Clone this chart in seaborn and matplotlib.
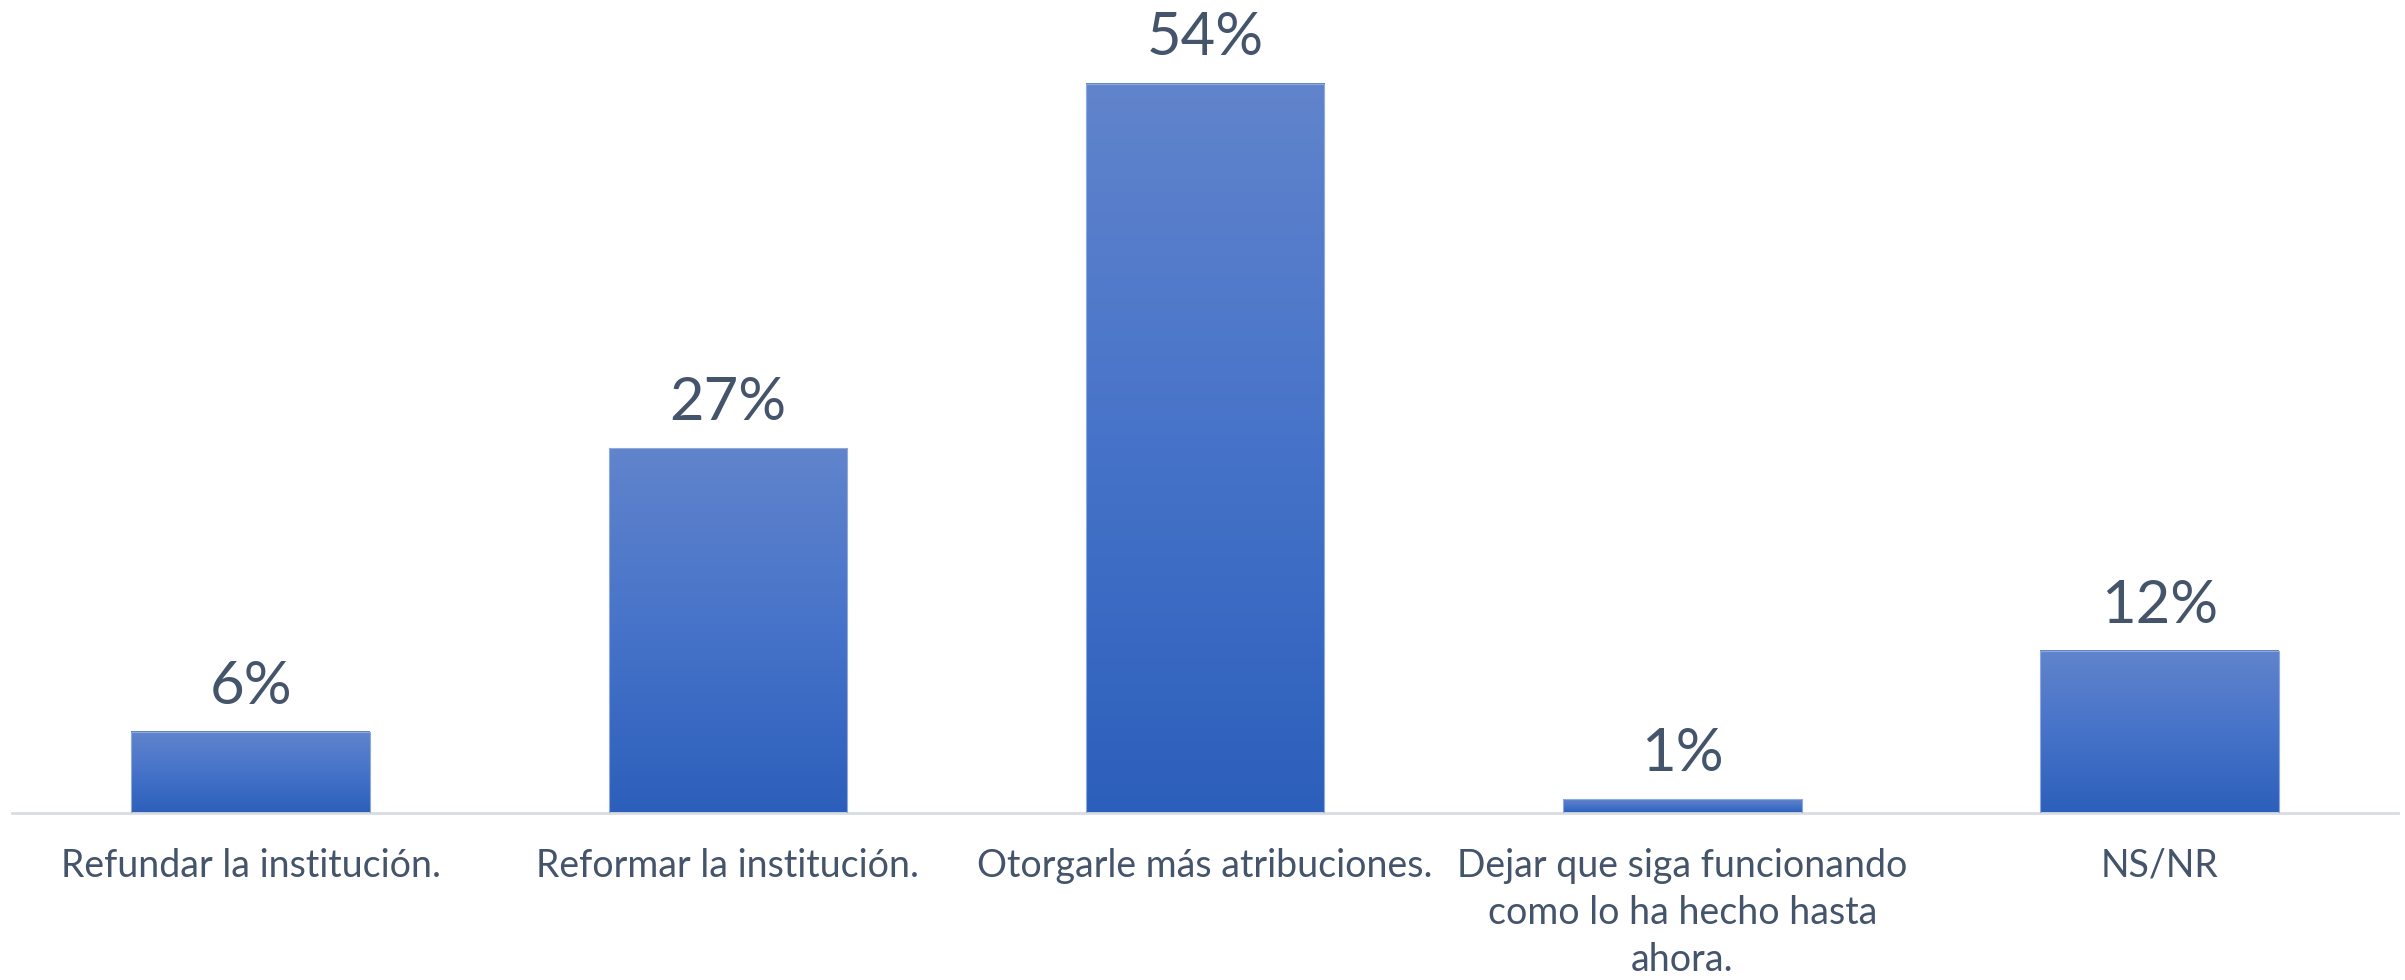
import numpy as np
import pandas as pd
import matplotlib
matplotlib.use("Agg")
import matplotlib.pyplot as plt
import seaborn as sns
from matplotlib.colors import LinearSegmentedColormap

# chart data
categories = [
    "Refundar la institución.",
    "Reformar la institución.",
    "Otorgarle más atribuciones.",
    "Dejar que siga funcionando\ncomo lo ha hecho hasta\nahora.",
    "NS/NR",
]
values = [6, 27, 54, 1, 12]
value_labels = ["6%", "27%", "54%", "1%", "12%"]

text_color = "#44546A"
grad = LinearSegmentedColormap.from_list("bar_grad", ["#2C5FBB", "#4673C9", "#6184CC"])

sns.set_theme(style="white")
plt.rcParams["font.family"] = ["Lato", "DejaVu Sans"]

df = pd.DataFrame({"cat": categories, "val": values})

fig = plt.figure(figsize=(24.05, 9.8), dpi=100)
ax = fig.add_axes([12 / 2405, 167 / 980, 2386 / 2405, 813 / 980])
sns.barplot(data=df, x="cat", y="val", color="#4472C4", width=0.5, ax=ax)

# replace flat fill with a vertical gradient per bar
for p, lab in zip(ax.patches, value_labels):
    x0, y0 = p.get_x(), p.get_y()
    w, h = p.get_width(), p.get_height()
    g = np.linspace(0, 1, 256).reshape(-1, 1)
    ax.imshow(g, cmap=grad, extent=[x0, x0 + w, y0, y0 + h], aspect="auto",
              origin="lower", zorder=2, interpolation="bicubic")
    p.set_facecolor("none")
    p.set_edgecolor("#8EA9DB")
    p.set_linewidth(0.8)
    p.set_zorder(3)
    ax.text(x0 + w / 2, y0 + h + 1.35, lab, ha="center", va="bottom",
            fontsize=43, color=text_color, clip_on=False)

ax.set_xlim(-0.5, 4.5)
ax.set_ylim(0, 60.2)
ax.set_xlabel("")
ax.set_ylabel("")
ax.set_yticks([])
for s in ["top", "right", "left"]:
    ax.spines[s].set_visible(False)
ax.spines["bottom"].set_color("#D9DCE3")
ax.spines["bottom"].set_linewidth(2)
ax.tick_params(axis="x", length=0, pad=25, labelsize=27, labelcolor=text_color)
for t in ax.get_xticklabels():
    t.set_linespacing(1.38)
    t.set_horizontalalignment("center")

fig.savefig("out.png", dpi=100)
